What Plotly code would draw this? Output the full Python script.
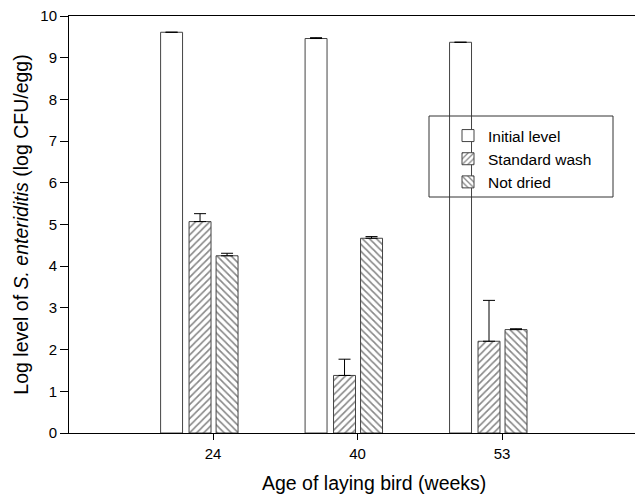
import plotly.graph_objects as go

ages = ["24", "40", "53"]
series_names = ["Initial level", "Standard wash", "Not dried"]
initial_level = [9.61, 9.46, 9.37]
initial_err = [0.0, 0.02, 0.0]
standard_wash = [5.07, 1.38, 2.20]
standard_err = [0.19, 0.39, 0.98]
not_dried = [4.25, 4.67, 2.48]
not_dried_err = [0.06, 0.04, 0.02]
y_ticks = list(range(0, 11))
x_title = "Age of laying bird (weeks)"
y_title = "Log level of <i>S. enteriditis</i> (log CFU/egg)"

FONT = "Liberation Sans, Arial, sans-serif"
# page body has an 8px default margin, so compensate
PAGE_OFF = 8
PL, PR, PT, PB = 69, 641, 16, 433          # plot area in window pixels
W = 643 - PAGE_OFF
H = 496 - PAGE_OFF
L = PL - PAGE_OFF
T = PT - PAGE_OFF
R = W - (PR - PAGE_OFF)
B = H - (PB - PAGE_OFF)
pw, ph = PR - PL, PB - PT

def px_x(p):
    return (p - PL) / pw

def px_y(p):
    return (PB - p) / ph

bar_w = 0.152
styles = [
    dict(name=series_names[0], y=initial_level, err=initial_err, off=-0.363, shape=""),
    dict(name=series_names[1], y=standard_wash, err=standard_err, off=-0.166, shape="/"),
    dict(name=series_names[2], y=not_dried, err=not_dried_err, off=0.021, shape="\\"),
]

fig = go.Figure()
for s in styles:
    fig.add_trace(go.Bar(
        x=ages, y=s["y"], name=s["name"],
        offset=s["off"], width=bar_w,
        marker=dict(color="white",
                    line=dict(color="#444", width=1),
                    pattern=dict(shape=s["shape"], size=5, solidity=0.33,
                                 fgcolor="#111", bgcolor="white")),
        error_y=dict(type="data", array=s["err"], symmetric=False,
                     arrayminus=[0] * 3, color="black", thickness=1, width=6),
    ))

fig.update_layout(
    width=W, height=H,
    margin=dict(l=L, r=R, t=T, b=B, autoexpand=False),
    paper_bgcolor="white", plot_bgcolor="white",
    barmode="overlay",
    font=dict(family=FONT, size=15, color="black"),
    showlegend=True,
    legend=dict(x=px_x(448), y=px_y(119), xanchor="left", yanchor="top",
                bgcolor="rgba(0,0,0,0)", borderwidth=0,
                font=dict(family=FONT, size=15.5, color="black"),
                tracegroupgap=0, itemwidth=30),
    shapes=[dict(type="rect", xref="paper", yref="paper",
                 x0=px_x(429), x1=px_x(613), y0=px_y(197), y1=px_y(116),
                 line=dict(color="#333", width=1), fillcolor="rgba(0,0,0,0)",
                 layer="above")],
    annotations=[dict(text=x_title, xref="paper", yref="paper",
                      x=px_x(374), y=px_y(483), xanchor="center", yanchor="middle",
                      showarrow=False, font=dict(family=FONT, size=19.5, color="black"))],
)
fig.update_xaxes(
    type="category", range=[-0.997, 2.962], automargin=False,
    showline=True, linecolor="black", linewidth=1, mirror=True,
    ticks="outside", ticklen=6, tickcolor="black", ticklabelstandoff=1,
    ticklabeloverflow="allow",
    showgrid=False, zeroline=False,
    tickfont=dict(family=FONT, size=15),
)
fig.update_yaxes(
    range=[0, 10], tickvals=y_ticks, automargin=False,
    showline=True, linecolor="black", linewidth=1,
    ticks="outside", ticklen=8, tickcolor="black",
    ticklabeloverflow="allow",
    showgrid=False, zeroline=False,
    tickfont=dict(family=FONT, size=15),
    title=dict(text=y_title, font=dict(family=FONT, size=19.5), standoff=6),
)
fig.write_html("out.html")
